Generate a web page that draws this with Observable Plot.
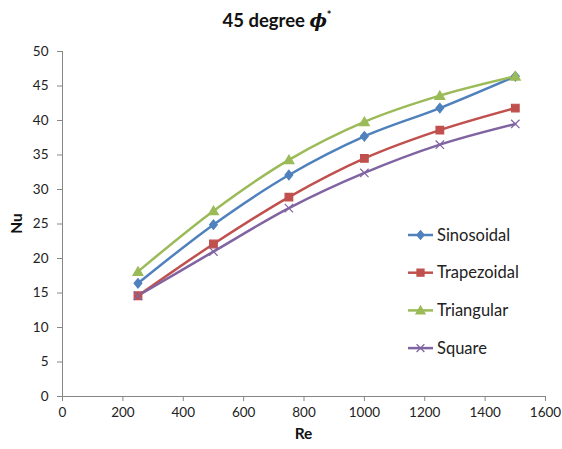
<!DOCTYPE html>
<html>
<head>
<meta charset="utf-8">
<script src="https://cdn.jsdelivr.net/npm/d3@7"></script>
<script src="https://cdn.jsdelivr.net/npm/@observablehq/plot@0.6"></script>
<style>
  html, body { margin: 0; padding: 0; background: white; }
  #chart { width: 562px; height: 449px; }
</style>
</head>
<body>
<div id="chart"></div>
<script>
const re = [250, 500, 750, 1000, 1250, 1500];
const sinosoidal  = [16.4, 24.9, 32.1, 37.7, 41.8, 46.4];
const trapezoidal = [14.6, 22.1, 28.9, 34.5, 38.6, 41.8];
const triangular  = [18.1, 26.9, 34.3, 39.8, 43.6, 46.4];
const square      = [14.6, 21.0, 27.3, 32.4, 36.5, 39.5];

const seriesNames = ["Sinosoidal", "Trapezoidal", "Triangular", "Square"];
const seriesValues = [sinosoidal, trapezoidal, triangular, square];
const seriesColors = ["#4F81BD", "#C0504D", "#9BBB59", "#8064A2"];

const xTicks = [0, 200, 400, 600, 800, 1000, 1200, 1400, 1600];
const yTicks = [0, 5, 10, 15, 20, 25, 30, 35, 40, 45, 50];

// Excel-like marker shapes
const excelDiamond = {draw(ctx, size) { const h = Math.sqrt(size) * 0.62, w = h * 0.82;
  ctx.moveTo(0, -h); ctx.lineTo(w, 0); ctx.lineTo(0, h); ctx.lineTo(-w, 0); ctx.closePath(); }};
const excelSquare = {draw(ctx, size) { const s = Math.sqrt(size) * 0.5; ctx.rect(-s, -s, 2 * s, 2 * s); }};
const excelTriangle = {draw(ctx, size) { const s = Math.sqrt(size) * 0.62;
  ctx.moveTo(0, -s); ctx.lineTo(s * 1.05, s * 0.8); ctx.lineTo(-s * 1.05, s * 0.8); ctx.closePath(); }};
const excelTimes = {draw(ctx, size) { const s = Math.sqrt(size) * 0.55;
  ctx.moveTo(-s, -s); ctx.lineTo(s, s); ctx.moveTo(s, -s); ctx.lineTo(-s, s); }};
const seriesSymbols = [excelDiamond, excelSquare, excelTriangle, excelTimes];

const data = seriesNames.flatMap((s, i) =>
  re.map((r, j) => ({Re: r, Nu: seriesValues[i][j], series: s})));

const axisColor = "#868686";
const textColor = "#222";
const font = "Lato, 'Open Sans', sans-serif";

const plot = Plot.plot({
  width: 562,
  height: 449,
  marginLeft: 62,
  marginRight: 17,
  marginTop: 51,
  marginBottom: 53,
  style: {fontFamily: font, fontSize: "13px", background: "white", color: textColor},
  x: {domain: [0, 1600]},
  y: {domain: [0, 50]},
  color: {domain: seriesNames, range: seriesColors},
  symbol: {domain: seriesNames, range: seriesSymbols},
  marks: [
    Plot.axisX({ticks: xTicks, tickFormat: d3.format("d"), tickSize: 5, tickPadding: 6, stroke: axisColor, fill: textColor, label: null, fontSize: 13.5}),
    Plot.axisY({ticks: yTicks, tickFormat: d3.format("d"), tickSize: 5, tickPadding: 9, stroke: axisColor, fill: textColor, label: null, fontSize: 13.5}),
    Plot.ruleY([0], {stroke: axisColor}),
    Plot.ruleX([0], {stroke: axisColor}),
    Plot.line(data, {x: "Re", y: "Nu", z: "series", stroke: "series", curve: "catmull-rom", strokeWidth: 2.5}),
    Plot.dot(data, {x: "Re", y: "Nu", symbol: "series", fill: "series", stroke: "series", strokeWidth: 1.2, r: 4.3})
  ]
});

document.getElementById("chart").appendChild(plot);

const svg = d3.select(plot);
const xs = plot.scale("x"), ys = plot.scale("y");

// Title
const title = svg.append("text")
  .attr("x", 277).attr("y", 27)
  .attr("text-anchor", "middle")
  .attr("font-family", font)
  .attr("font-weight", "bold")
  .attr("font-size", 18.5)
  .attr("fill", "#111");
title.append("tspan").text("45 degree ");
title.append("tspan").attr("font-style", "italic").attr("font-family", "'DejaVu Serif', serif").text("\u03D5");
title.append("tspan").attr("font-size", 11).attr("dy", -8).text("*");

// Axis titles
svg.append("text")
  .attr("x", (xs.apply(0) + xs.apply(1600)) / 2).attr("y", 439)
  .attr("text-anchor", "middle")
  .attr("font-family", font).attr("font-weight", "bold").attr("font-size", 15.5)
  .attr("fill", "#111").text("Re");
svg.append("text")
  .attr("transform", `translate(22,${(ys.apply(0) + ys.apply(50)) / 2}) rotate(-90)`)
  .attr("text-anchor", "middle")
  .attr("font-family", font).attr("font-weight", "bold").attr("font-size", 15.5)
  .attr("fill", "#111").text("Nu");

// Legend
const legend = svg.append("g").attr("transform", "translate(408,235)");
seriesNames.forEach((s, i) => {
  const g = legend.append("g").attr("transform", `translate(0,${i * 37.7})`);
  g.append("line").attr("x1", 0).attr("x2", 25).attr("y1", 0).attr("y2", 0)
    .attr("stroke", seriesColors[i]).attr("stroke-width", 2.5);
  g.append("path").attr("transform", "translate(12.5,0)")
    .attr("d", d3.symbol(seriesSymbols[i], 50)())
    .attr("fill", seriesColors[i]).attr("stroke", seriesColors[i]).attr("stroke-width", 1.2);
  g.append("text").attr("x", 29).attr("y", 0).attr("dy", "0.35em")
    .attr("text-anchor", "start")
    .attr("font-family", font).attr("font-size", 16.5).attr("fill", textColor).text(s);
});
</script>
</body>
</html>
